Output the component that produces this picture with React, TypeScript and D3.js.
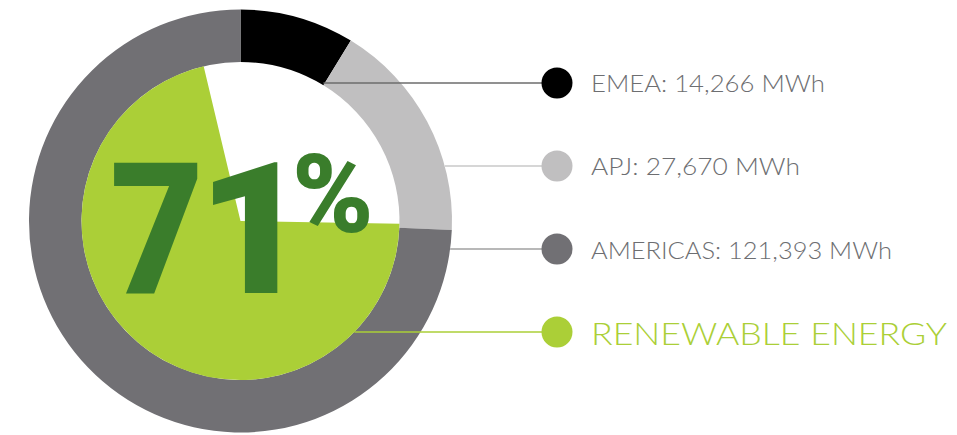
import React from "react";
import * as d3 from "d3";

const regions = ["EMEA", "APJ", "AMERICAS"];
const regionValues = [14266, 27670, 121393];
const regionColors = ["#000000", "#c0bfc0", "#717074"];
const legendLabels = ["EMEA: 14,266 MWh", "APJ: 27,670 MWh", "AMERICAS: 121,393 MWh", "RENEWABLE ENERGY"];
const renewableShare = [0.71, 0.29];
const bigDigits = ["7", "1"];
const bigSuffix = "%";

const W = 957;
const H = 435;
const cx = 240.5;
const cy = 221;
const outerR = 211.5;
const innerR = 159;
const green = "#abcf37";
const darkGreen = "#3a7d2b";
const textGray = "#6d6e71";

export default function App() {
  const pie = d3.pie<number>().sort(null).value((d) => d);
  const ring = pie(regionValues);
  const arc = d3.arc<d3.PieArcDatum<number>>().innerRadius(innerR).outerRadius(outerR);

  const g0 = (91 * Math.PI) / 180;
  const innerPie = d3.pie<number>().sort(null).value((d) => d).startAngle(g0).endAngle(g0 + 2 * Math.PI)(renewableShare);
  const innerArc = d3.arc<d3.PieArcDatum<number>>().innerRadius(0).outerRadius(innerR);

  const legendY = d3.scalePoint<number>().domain([0, 1, 2, 3]).range([83, 332]);
  const circleX = 557;
  const textX = 591;

  const xOnCircle = (r: number, y: number) => cx + Math.sqrt(r * r - (y - cy) * (y - cy));
  const lineStarts = [
    cx + innerR * Math.sin(ring[0].endAngle),
    xOnCircle(outerR, legendY(1)!),
    xOnCircle(outerR, legendY(2)!),
    xOnCircle(innerR, legendY(3)!),
  ];
  const lineColors = ["#6d6d6d", "#c8c8c8", "#a0a0a0", green];
  const dotColors = [...regionColors, green];
  const fontSizes = [22.5, 22.5, 22.5, 31];
  const textLens = [234, 209, 301, 356];
  const baselineOffsets = [9, 9, 10, 13];
  const digitX = [110, 197];
  const digitLen = [94, 114];

  return (
    <svg width={W} height={H} style={{ position: "absolute", left: 0, top: 0 }}>
      <g transform={`translate(${cx},${cy})`}>
        {ring.map((d, i) => (
          <path key={regions[i]} d={arc(d)!} fill={regionColors[i]} />
        ))}
        <path d={innerArc(innerPie[0])!} fill={green} />
      </g>
      {legendLabels.map((label, i) => {
        const y = legendY(i)!;
        return (
          <g key={label}>
            <line x1={lineStarts[i]} x2={circleX} y1={y} y2={y} stroke={lineColors[i]} strokeWidth={i === 0 ? 1.6 : 1.3} />
            <circle cx={circleX} cy={y} r={15.5} fill={dotColors[i]} />
            <text
              x={textX}
              y={y + baselineOffsets[i]}
              fontFamily="Lato, 'Open Sans', sans-serif"
              fontWeight={300}
              fontSize={fontSizes[i]}
              fill={i === 3 ? green : textGray}
              textLength={textLens[i]}
              lengthAdjust="spacingAndGlyphs"
            >
              {label}
            </text>
          </g>
        );
      })}
      <text fontFamily="Roboto, sans-serif" fontWeight={900} fill={darkGreen}>
        {bigDigits.map((d, i) => (
          <tspan key={i} x={digitX[i]} y={293} fontSize={184} textLength={digitLen[i]} lengthAdjust="spacingAndGlyphs">
            {d}
          </tspan>
        ))}
        <tspan x={292} y={231.5} fontSize={110}>
          {bigSuffix}
        </tspan>
      </text>
    </svg>
  );
}
